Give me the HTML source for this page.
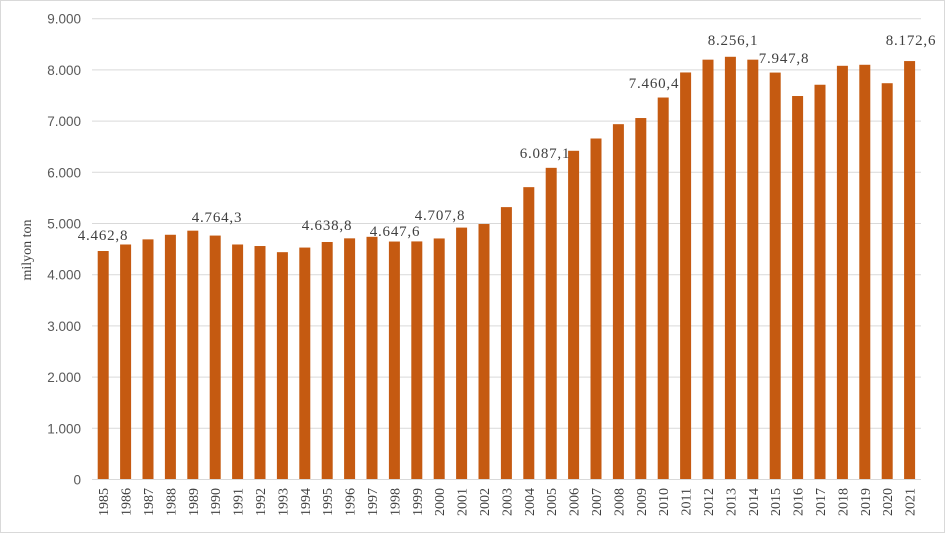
<!DOCTYPE html>
<html><head><meta charset="utf-8"><style>
html,body{margin:0;padding:0;background:#fff}
svg{display:block}
</style></head><body>
<svg width="945" height="533" xmlns="http://www.w3.org/2000/svg">
<rect x="0.5" y="0.5" width="944" height="532" fill="#fff" stroke="#d9d9d9"/>
<g id="grid" stroke="#d9d9d9" stroke-width="1"></g>
<g id="ticks" font-family="Liberation Sans, sans-serif" font-size="13.5" fill="#595959" text-anchor="end"></g>
<g id="bars" fill="#C55A11"></g>
<line x1="92" y1="479.5" x2="921" y2="479.5" stroke="#d9d9d9"/>
<g id="years" font-family="Liberation Serif, serif" font-size="14" fill="#404040"></g>
<text transform="translate(31,250) rotate(-90)" font-family="Liberation Serif, serif" font-size="14" fill="#404040" text-anchor="middle">milyon ton</text>
<g id="labels" font-family="Liberation Serif, serif" font-size="15" letter-spacing="0.8" fill="#404040" text-anchor="middle"></g>
</svg>
<script>
var ns="http://www.w3.org/2000/svg";
function el(t,a,p,txt){var e=document.createElementNS(ns,t);for(var k in a)e.setAttribute(k,a[k]);if(txt!=null)e.textContent=txt;document.getElementById(p).appendChild(e);return e;}
var y0=479.5,s=0.0512;
for(var i=0;i<=9;i++){var y=y0-i*1000*s;
 if(i>0)el("line",{x1:92,x2:921,y1:y,y2:y},"grid");
 el("text",{x:81,y:y+5},"ticks",i==0?"0":i+".000");}
var v=[4462.8,4590,4690,4780,4860,4764.3,4590,4560,4440,4530,4638.8,4710,4740,4647.6,4650,4707.8,4920,4990,5320,5710,6087.1,6420,6660,6940,7060,7460.4,7950,8200,8256.1,8200,7947.8,7490,7710,8080,8100,7740,8172.6];
for(var i=0;i<37;i++){var c=92+(i+0.5)*22.4,h=v[i]*s;
 el("rect",{x:c-5.5,y:y0-h,width:11,height:h},"bars");
 el("text",{transform:"translate("+(c+5)+",488) rotate(-90)","text-anchor":"end"},"years",String(1985+i));}
var L=[[103,240,"4.462,8"],[217,222,"4.764,3"],[327,230,"4.638,8"],[395,236,"4.647,6"],[440,220,"4.707,8"],[545,158,"6.087,1"],[654,88,"7.460,4"],[733,45,"8.256,1"],[784,63,"7.947,8"],[911,45,"8.172,6"]];
L.forEach(function(l){el("text",{x:l[0],y:l[1]},"labels",l[2]);});
</script>
</body></html>
